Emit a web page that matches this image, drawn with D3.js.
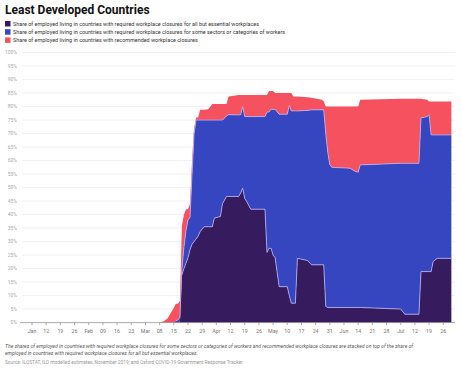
<!DOCTYPE html>
<html>
<head>
<meta charset="utf-8">
<script src="https://cdn.jsdelivr.net/npm/d3@7"></script>
<style>
  body { margin: 0; background: #fff; }
  svg { display: block; font-family: Roboto, "Noto Sans", sans-serif; }
</style>
</head>
<body>
<div id="chart"></div>
<script>
// dates where the series change (2020)
const dates = [
  "2020-01-01","2020-03-08","2020-03-10","2020-03-12","2020-03-15","2020-03-16","2020-03-17","2020-03-18",
  "2020-03-19","2020-03-20","2020-03-21","2020-03-22","2020-03-23","2020-03-24","2020-03-25","2020-03-26",
  "2020-03-27","2020-03-28","2020-03-30","2020-04-01","2020-04-03","2020-04-04","2020-04-07","2020-04-08",
  "2020-04-10","2020-04-11","2020-04-16","2020-04-17","2020-04-18","2020-04-19","2020-04-20","2020-04-22",
  "2020-04-29","2020-04-30","2020-05-01","2020-05-02","2020-05-03","2020-05-04","2020-05-06","2020-05-10",
  "2020-05-11","2020-05-12","2020-05-13","2020-05-14","2020-05-15","2020-05-20","2020-05-22","2020-05-27",
  "2020-05-28","2020-05-29","2020-05-30","2020-05-31","2020-06-01","2020-06-10","2020-06-12","2020-06-14",
  "2020-06-15","2020-07-05","2020-07-07","2020-07-14","2020-07-15","2020-07-18","2020-07-19","2020-07-20",
  "2020-07-21","2020-07-23","2020-07-30"
];
// cumulative tops (percent of employed)
const essentialTop = [
  0,0,0,0,0,0,0,0,
  17.7,20,22,24,27,29,30,31,
  32,33.7,35.5,35.5,35.5,38.7,39.3,44,
  46.7,46.7,46.7,48,49.8,46,44.8,42,
  42,26,27.5,27.5,25,24,13.3,13.3,
  10,7.2,7.2,7.2,23.8,23,21.4,21.4,
  21.4,6,5.6,5.6,5.6,5.6,5.6,5.6,
  5.6,5,3.1,3.1,18.9,18.9,18.9,18.9,
  22.6,23.8,23.8
];
const sectorsTop = [
  0,0,0,0,0,0.7,1,2,
  20,28,34,38,39,55,70,75,
  75,75,75,75,75,75,75,75,
  76.5,77,76.9,77,80,76.3,76.3,76.3,
  76.3,78,78,79,79,79,77.2,77.2,
  80.4,78.4,78.4,78.4,78.4,78.6,78.8,78.8,
  78.8,70,63,58.5,57.5,57.2,56.2,55.7,
  58.4,59,59,59,75.8,76.3,77,69.5,
  69.5,69.5,69.5
];
const recommendedTop = [
  0,0,0.5,1.6,5.5,7,7,8,
  36,40,42,42,44,60,72,76,
  76,78.8,78.8,79,81,81,81,81,
  81,83.7,84.3,84.3,84.3,84.3,84.3,84.3,
  84.3,84.3,85.8,85.8,85.8,85,85,85,
  85,85,83.7,83.7,83.7,83.5,83.3,82.5,
  82,80,80,80,80,80,80,80,
  82.5,82.9,82.9,82.9,82.9,82.5,81.9,81.9,
  81.9,81.9,81.9
];
const yTicks = [0,5,10,15,20,25,30,35,40,45,50,55,60,65,70,75,80,85,90,95,100];
const legendLabels = [
  "Share of employed living in countries with required workplace closures for all but essential workplaces",
  "Share of employed living in countries with required workplace closures for some sectors or categories of workers",
  "Share of employed living in countries with recommended workplace closures"
];
const colors = ["#371b5f", "#3546c0", "#f5515f"];

const width = 462, height = 372;
const parse = d3.timeParse("%Y-%m-%d");

// stacked layer values are band thicknesses
const rows = dates.map((d, i) => ({
  date: parse(d),
  essential: essentialTop[i],
  sectors: sectorsTop[i] - essentialTop[i],
  recommended: recommendedTop[i] - sectorsTop[i]
}));
const keys = ["essential", "sectors", "recommended"];
const series = d3.stack().keys(keys)(rows);

const svg = d3.select("#chart").append("svg")
  .attr("width", width).attr("height", height);

const x = d3.scaleTime()
  .domain([parse("2020-01-01"), parse("2020-07-31")])
  .range([23.9, 453.4]);
const y = d3.scaleLinear().domain([0, 100]).range([322.6, 52.6]);

// title
svg.append("text").attr("x", 5).attr("y", 14)
  .attr("font-size", 12).attr("font-weight", 700).attr("fill", "#111")
  .text("Least Developed Countries");

// legend
const lg = svg.append("g");
legendLabels.forEach((t, i) => {
  const yy = 24 + i * 8.2;
  lg.append("rect").attr("x", 5).attr("y", yy - 3).attr("width", 5.5).attr("height", 5.5).attr("fill", colors[i]);
  lg.append("text").attr("x", 13).attr("y", yy + 2).attr("font-size", 5.45).attr("fill", "#333").text(t);
});

// gridlines + y labels
const grid = svg.append("g");
yTicks.forEach(v => {
  if (v > 0) {
    grid.append("line").attr("x1", 22).attr("x2", 455)
      .attr("y1", y(v)).attr("y2", y(v))
      .attr("stroke", "#ebebeb").attr("stroke-width", 0.7);
  }
  grid.append("text").attr("x", 17).attr("y", y(v) + 1.8)
    .attr("text-anchor", "end").attr("font-size", 5).attr("fill", "#aaa").text(v + "%");
});

// areas
const area = d3.area()
  .x(d => x(d.data.date))
  .y0(d => y(d[0]))
  .y1(d => y(d[1]));
svg.append("g").selectAll("path")
  .data(series)
  .enter()
  .append("path")
  .attr("d", area)
  .attr("fill", (d, i) => colors[i]);

// boundary lines between the stacked bands
const topLine = d3.line().x(d => x(d.data.date)).y(d => y(d[1]));
svg.append("g").selectAll("path")
  .data(series.slice(0, 2))
  .enter()
  .append("path")
  .attr("d", d => topLine(d.filter(p => p[1] > 0.3)))
  .attr("fill", "none")
  .attr("stroke", "#b9b2f0")
  .attr("stroke-width", 0.8);

// x axis
const weeks = d3.timeSunday.range(parse("2020-01-05"), parse("2020-07-27"));
const fmt = d => {
  const prev = d3.timeDay.offset(d, -7);
  return prev.getMonth() !== d.getMonth() ? d3.timeFormat("%b")(d) : d3.timeFormat("%d")(d);
};
const ax = svg.append("g").attr("transform", "translate(0," + y(0) + ")");
ax.append("line").attr("x1", 20).attr("x2", 455).attr("stroke", "#888").attr("stroke-width", 0.7);
weeks.forEach(d => {
  ax.append("line").attr("x1", x(d)).attr("x2", x(d)).attr("y1", 0).attr("y2", 2.5)
    .attr("stroke", "#888").attr("stroke-width", 0.7);
  ax.append("text").attr("x", x(d)).attr("y", 10).attr("text-anchor", "middle")
    .attr("font-size", 5.3).attr("fill", "#777").text(fmt(d));
});

// notes
svg.append("text").attr("x", 5).attr("y", 347.5).attr("font-size", 5.1).attr("font-style", "italic").attr("fill", "#555")
  .text("The shares of employed in countries with required workplace closures for some sectors or categories of workers and recommended workplace closures are stacked on top of the share of");
svg.append("text").attr("x", 5).attr("y", 354.8).attr("font-size", 5.1).attr("font-style", "italic").attr("fill", "#555")
  .text("employed in countries with required workplace closures for all but essential workplaces.");
svg.append("text").attr("x", 5).attr("y", 363.8).attr("font-size", 4.8).attr("fill", "#999")
  .text("Source: ILOSTAT, ILO modelled estimates, November 2019; and Oxford COVID-19 Government Response Tracker.");
</script>
</body>
</html>
